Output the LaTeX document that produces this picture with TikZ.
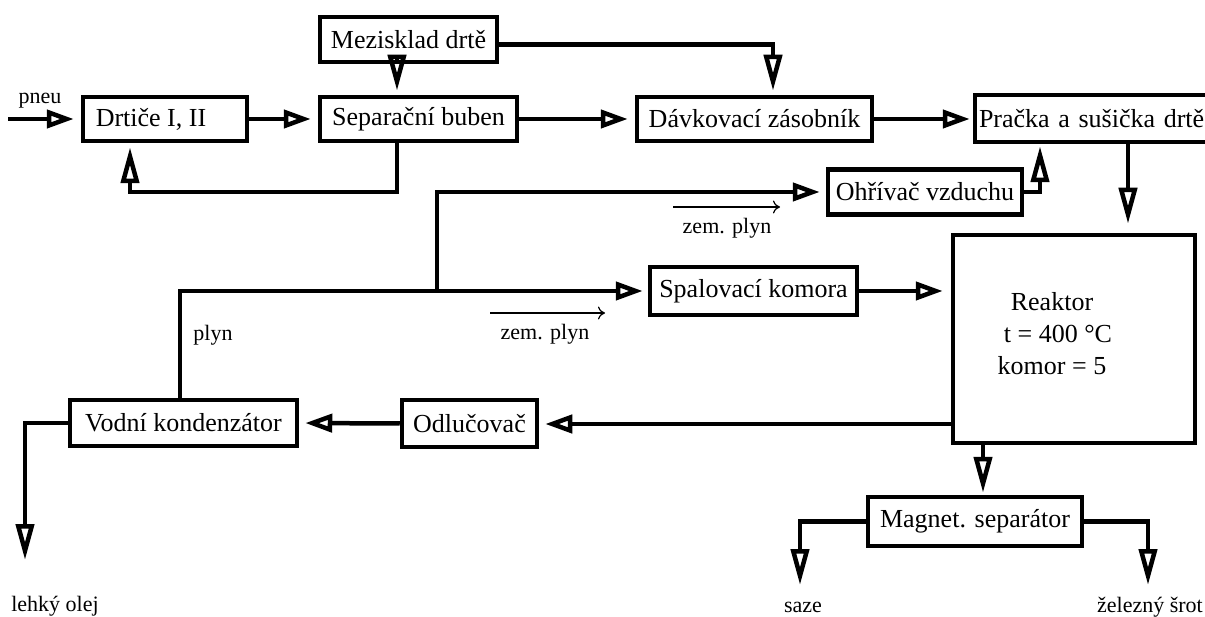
\documentclass[tikz,border=0pt]{standalone}
\usepackage{fontspec}
\setmainfont{Liberation Serif}
\usetikzlibrary{arrows.meta}
\begin{document}
\begin{tikzpicture}[x=1pt,y=-1pt,
 box/.style={draw, line width=4.5pt, inner sep=0pt, font=\fontsize{26}{30}\selectfont},
 conn/.style={line width=4.5pt},
 ha/.style={conn, -{Triangle[open,length=27pt,width=18pt]}},
 va/.style={conn, -{Triangle[open,length=36pt,width=18pt]}},
 lbl/.style={font=\fontsize{22}{25}\selectfont, inner sep=0pt},
 thinarr/.style={line width=1.2pt, -{To[length=7pt,width=13pt]}}
]
\fill[white] (0,0) rectangle (1205,617);
\useasboundingbox (0,0) rectangle (1205,617);

% boxes
\node[box, minimum width=177pt, minimum height=45pt] (mez) at (408.5,39.5) {Mezisklad drtě};
\node[box, minimum width=164pt, minimum height=44pt] (drt) at (165,119) {\hspace*{-28pt}Drtiče I, II};
\node[box, minimum width=197pt, minimum height=44pt] (sep) at (418.5,119) {Separační buben};
\node[box, minimum width=235pt, minimum height=44pt] (dav) at (754.5,119) {Dávkovací zásobník};
\node[box, minimum width=240pt, minimum height=47pt, text width=232pt, align=left] (pra) at (1095,118.5) {Pračka a sušička drtě};
\node[box, minimum width=194pt, minimum height=45pt] (ohr) at (925,192) {Ohřívač vzduchu};
\node[box, minimum width=207pt, minimum height=48pt] (spa) at (753.5,291) {Spalovací komora};
\node[box, minimum width=242pt, minimum height=208pt] (rea) at (1074,339) {};
\node[font=\fontsize{26}{32}\selectfont, align=center, inner sep=0pt] (rtxt) at (1052,334) {Reaktor\\\hspace*{12pt}t = 400 °C\\komor = 5};
\node[box, minimum width=227pt, minimum height=46pt] (vod) at (183.5,423) {Vodní kondenzátor};
\node[box, minimum width=135pt, minimum height=47pt] (odl) at (469.5,423.5) {Odlučovač};
\node[box, minimum width=214pt, minimum height=49pt] (mag) at (975,521.5) {Magnet. separátor};

% free ends and labels
\coordinate (pin) at (8,119);
\node[lbl] (pneu) at (40,101) {pneu};
\coordinate (j) at (437,291);
\coordinate (oil) at (25,560);
\coordinate (saz) at (800,585);
\coordinate (zel) at (1148,585);
\node[lbl] (loil) at (55,606) {lehký olej};
\node[lbl] (lsaz) at (803,607) {saze};
\node[lbl] (lzel) at (1150,607) {železný šrot};
\node[lbl] (lplyn) at (213,335) {plyn};
\coordinate (z1a) at (673,207);
\coordinate (z1b) at (780,207);
\node[lbl] (lz1) at (727,228) {zem. plyn};
\coordinate (z2a) at (490,313);
\coordinate (z2b) at (605,313);
\node[lbl] (lz2) at (545,334) {zem. plyn};

% connectors
\draw[ha, shorten >=7pt] (pin) -- (drt.west);
\draw[ha, shorten >=7pt] (drt.east) -- (sep.west);
\draw[ha, shorten >=7pt] (sep.east) -- (dav.west);
\draw[ha, shorten >=3pt] (dav.east) -- (dav.east -| pra.west);
\draw[va, shorten >=4pt] ([xshift=-11.5pt]mez.south) -- ([xshift=-21.5pt]sep.north);
\draw[va, shorten >=4pt] ([yshift=-5pt]mez.east) -| ([xshift=18.5pt]dav.north);
\draw[va, shorten >=4pt] ([xshift=-21.5pt]sep.south) -- ++(0,49) -| ([xshift=-35pt]drt.south);
\draw[va, shorten >=2pt] (ohr.east) -| ([xshift=-55pt]pra.south);
\draw[va, shorten >=9pt] ([xshift=33pt]pra.south) -- ([xshift=33pt]pra.south |- rea.north);
\draw[ha, shorten >=8pt] (spa.east) -- (spa.east -| rea.west);
\draw[ha, shorten >=6pt] ([yshift=-85pt]rea.west) -- ([yshift=-85pt]rea.west -| odl.east);
\draw[ha, shorten >=6pt] (odl.west) -- (vod.east);
\draw[ha, shorten >=5pt] ([xshift=-3.5pt]vod.north) |- (spa.west);
\draw[ha, shorten >=6pt] (j) |- (ohr.west);
\draw[va] (vod.west) -| (oil);
\draw[va, shorten >=2pt] ([xshift=-91pt]rea.south) -- ([xshift=8pt]mag.north);
\draw[va] (mag.west) -| (saz);
\draw[va] (mag.east) -| (zel);
\draw[thinarr] (z1a) -- (z1b);
\draw[thinarr] (z2a) -- (z2b);
\end{tikzpicture}
\end{document}
